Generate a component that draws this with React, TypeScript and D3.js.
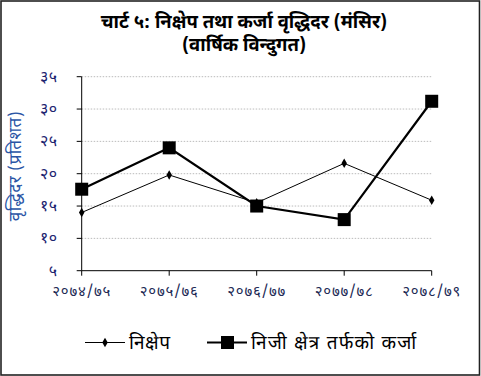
import React from "react";
import * as d3 from "d3";

const categories = ["२०७४/७५", "२०७५/७६", "२०७६/७७", "२०७७/७८", "२०७८/७९"];
const depositGrowth = [14.0, 19.8, 15.5, 21.6, 15.9];
const privateCreditGrowth = [17.6, 24.0, 15.0, 12.9, 31.2];
const yTicks = [5, 10, 15, 20, 25, 30, 35];
const yTickLabels = ["५", "१०", "१५", "२०", "२५", "३०", "३५"];
const seriesNames = ["निक्षेप", "निजी क्षेत्र तर्फको कर्जा"];
const titleLines = ["चार्ट ५: निक्षेप तथा कर्जा वृद्धिदर (मंसिर)", "(वार्षिक विन्दुगत)"];
const yAxisTitle = "वृद्धिदर (प्रतिशत)";

const W = 481;
const H = 376;
const FONT = "'Noto Sans Devanagari', 'Lohit Devanagari', 'Noto Sans', sans-serif";
const TICK = "#1c2470";
const YT = "#2a55a5";

export default function App() {
  const x = d3.scalePoint<string>().domain(categories).range([81.7, 431.7]);
  const y = d3.scaleLinear().domain([5, 35]).range([270.7, 76.7]);
  const line = d3
    .line<number>()
    .x((_, i) => x(categories[i]) as number)
    .y((d) => y(d));
  const x0 = 81.7;
  const x1 = 431.7;
  const diamond = d3.symbol(d3.symbolDiamond, 26)() || "";
  return (
    <svg
      width={W}
      height={H}
      style={{ position: "absolute", left: 0, top: 0, background: "#fff" }}
      fontFamily={FONT}
    >
      <rect x={1} y={1} width={W - 2.5} height={H - 2} fill="#fff" stroke="#222" strokeWidth={1.6} />
      {titleLines.map((t, i) => (
        <text key={i} x={244} y={28 + i * 23} textAnchor="middle" fontSize={18.5} fontWeight="bold" fill="#000">
          {t}
        </text>
      ))}
      {yTicks.slice(1).map((v) => (
        <line key={v} x1={x0} x2={x1} y1={y(v)} y2={y(v)} stroke="#bbb" strokeWidth={1} strokeDasharray="1.5,1.5" />
      ))}
      <line x1={x0} x2={x0} y1={y(35)} y2={y(5)} stroke="#000" strokeWidth={1} />
      <line x1={x0} x2={x1} y1={y(5)} y2={y(5)} stroke="#000" strokeWidth={1} />
      {yTicks.map((v, i) => (
        <g key={v}>
          <line x1={x0 - 5} x2={x0} y1={y(v)} y2={y(v)} stroke="#000" />
          <text x={x0 - 24} y={y(v)} dy="0.3em" textAnchor="end" fontSize={16} letterSpacing={0.5} fill={TICK}>
            {yTickLabels[i]}
          </text>
        </g>
      ))}
      {categories.map((c) => (
        <g key={c}>
          <line x1={x(c)} x2={x(c)} y1={y(5)} y2={y(5) + 5} stroke="#000" />
          <text x={x(c)} y={y(5) + 25} textAnchor="middle" fontSize={15} letterSpacing={0.8} fill="#222a55">
            {c}
          </text>
        </g>
      ))}
      <text
        transform={`translate(15,166) rotate(-90)`}
        textAnchor="middle"
        fontSize={17}
        letterSpacing={0.5}
        fill={YT}
        dy="0.35em"
      >
        {yAxisTitle}
      </text>
      <path d={line(depositGrowth) || ""} fill="none" stroke="#000" strokeWidth={1} />
      {depositGrowth.map((v, i) => (
        <path key={i} d={diamond} transform={`translate(${x(categories[i])},${y(v)})`} fill="#000" />
      ))}
      <path d={line(privateCreditGrowth) || ""} fill="none" stroke="#000" strokeWidth={2.2} />
      {privateCreditGrowth.map((v, i) => (
        <rect
          key={i}
          x={(x(categories[i]) as number) - 6.5}
          y={y(v) - 6.5}
          width={13}
          height={13}
          fill="#000"
        />
      ))}
      <g>
        <line x1={85} x2={125} y1={342.5} y2={342.5} stroke="#000" strokeWidth={1} />
        <path d={diamond} transform="translate(105,342.5)" fill="#000" />
        <text x={129} y={342} dy="0.35em" fontSize={19} letterSpacing={0.6} fill="#000">
          {seriesNames[0]}
        </text>
        <line x1={207} x2={247} y1={342.5} y2={342.5} stroke="#000" strokeWidth={2.2} />
        <rect x={221} y={336} width={13} height={13} fill="#000" />
        <text x={251} y={342} dy="0.35em" fontSize={19} letterSpacing={1.2} fill="#000">
          {seriesNames[1]}
        </text>
      </g>
    </svg>
  );
}
